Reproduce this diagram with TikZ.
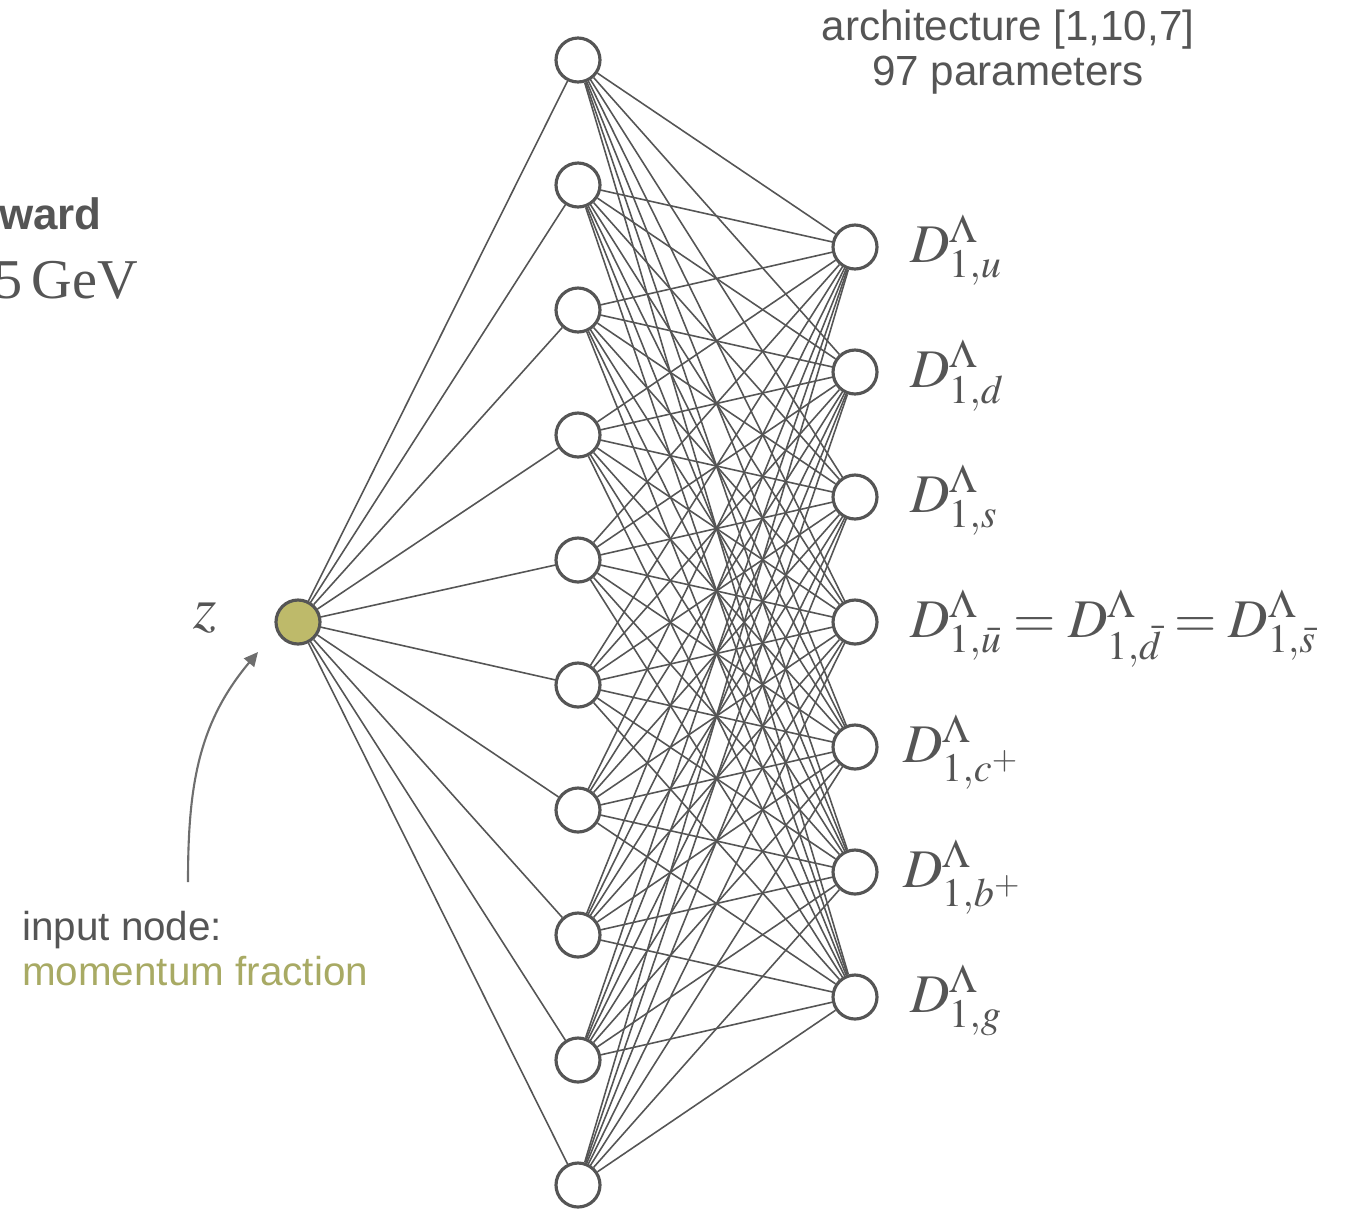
\documentclass[tikz,border=0pt]{standalone}
\usepackage{mathptmx}
\usepackage{fontspec}
\setmainfont{Liberation Serif}
\setsansfont{Liberation Sans}
\usetikzlibrary{arrows.meta}

\definecolor{netgray}{RGB}{85,85,85}
\definecolor{arrowgray}{RGB}{110,110,110}
\definecolor{zfill}{RGB}{190,186,106}
\definecolor{ztext}{RGB}{168,170,100}

\begin{document}
\begin{tikzpicture}[
                x=0.02cm, y=-0.02cm,
                every node/.style={text=netgray},
                neuron/.style={circle, draw=netgray, line width=1.8pt, fill=white, minimum size=0.88cm, inner sep=0pt},
                link/.style={draw=netgray, line width=0.9pt},
                outlabel/.style={anchor=base west, font=\fontsize{31}{34}\selectfont}
            ]
            \useasboundingbox (0, 0) rectangle (1361, 1208);

            % input, hidden and output layers
            \node[neuron, fill=zfill] (in) at (298, 622) {};
            \foreach \i in {1,...,10} {
                \node[neuron] (h\i) at (578, -65+125*\i) {};
            }
            \foreach \j in {1,...,7} {
                \node[neuron] (o\j) at (855, 122+125*\j) {};
            }

            \foreach \i in {1,...,10} {
                \draw[link] (in) -- (h\i);
                \foreach \j in {1,...,7} {
                    \draw[link] (h\i) -- (o\j);
                }
            }

            \node[outlabel] (lu) at (904, 262) {$D^{\Lambda}_{1,u}$};
            \node[outlabel] (ld) at (904, 387) {$D^{\Lambda}_{1,d}$};
            \node[outlabel] (ls) at (904, 512) {$D^{\Lambda}_{1,s}$};
            \node[outlabel] (lbar) at (904, 637) {$D^{\Lambda}_{1,\bar{u}} = D^{\Lambda}_{1,\bar{d}} = D^{\Lambda}_{1,\bar{s}}$};
            \node[outlabel] (lc) at (897, 762) {$D^{\Lambda}_{1,c^+}$};
            \node[outlabel] (lb) at (897, 887) {$D^{\Lambda}_{1,b^+}$};
            \node[outlabel] (lg) at (904, 1012) {$D^{\Lambda}_{1,g}$};

            \node[font=\fontsize{34}{36}\selectfont] (zlab) at (205, 618) {$z$};

            \node[font=\fontsize{24}{25.5}\selectfont\sffamily, align=center] (arch) at (1008, 52) {architecture [1,10,7]\\97 parameters};

            \node[anchor=base west, font=\fontsize{25}{28}\selectfont\sffamily\bfseries] (ward) at (-7, 229) {ward};
            \node[anchor=base west, font=\fontsize{32}{34}\selectfont] (gev) at (-12, 298) {5\,GeV};

            % input annotation
            \node[anchor=base west, font=\fontsize{23}{26}\selectfont\sffamily] (inlab) at (16, 940) {input node:};
            \node[anchor=base west, font=\fontsize{23}{26}\selectfont\sffamily, text=ztext] (fraclab) at (16, 985) {momentum fraction};
            \coordinate (tail) at (188, 882);
            \coordinate (tip) at (258, 652);
            \draw[-{Triangle[length=8pt, width=7.5pt]}, draw=arrowgray, line width=1.2pt] (tail) to[out=90, in=-130] (tip);
        \end{tikzpicture}
\end{document}
